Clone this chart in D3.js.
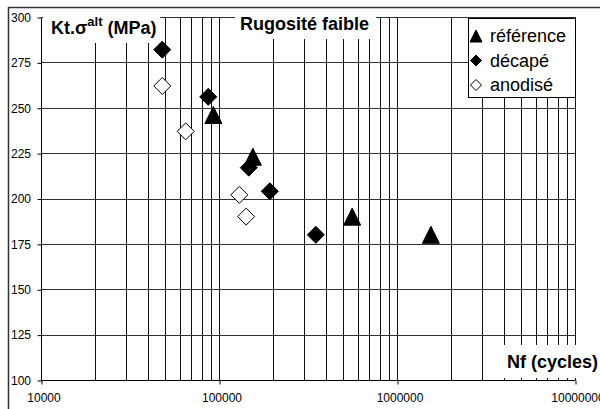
<!DOCTYPE html>
<html>
<head>
<meta charset="utf-8">
<script src="https://cdn.jsdelivr.net/npm/d3@7"></script>
<style>
  body { margin: 0; background: #fff; }
  svg { display: block; font-family: 'Liberation Sans', Arial, sans-serif; }
</style>
</head>
<body>
<div id="chart"></div>
<script>
const seriesNames = ['référence', 'décapé', 'anodisé']
const refN = [93000, 155000, 560000, 1550000]
const refS = [246, 223, 190, 180]
const decN = [48000, 87000, 147000, 193000, 350000]
const decS = [282, 256, 217, 204, 180]
const anoN = [48000, 65000, 130000, 142000]
const anoS = [262, 237, 202, 190]
const yTicks = [100, 125, 150, 175, 200, 225, 250, 275, 300]
const xTicks = [10000, 100000, 1000000, 10000000]

const width = 600
const height = 409
const margin = {top: 17, right: 25, bottom: 29, left: 41}

const svg = d3.select('#chart').append('svg')
  .attr('width', width)
  .attr('height', height)

svg.append('rect')
  .attr('width', width).attr('height', height)
  .attr('fill', '#fff')

// outer chart frame (runs off the right and bottom edges)
svg.append('path')
  .attr('d', 'M8.5,' + (height + 5) + 'V7.5H' + (width + 5))
  .attr('fill', 'none')
  .attr('stroke', '#333')
  .attr('stroke-width', 1.5)

const x = d3.scaleLog()
  .domain([10000, 10000000])
  .range([margin.left, width - margin.right])
const y = d3.scaleLinear()
  .domain([100, 300])
  .range([height - margin.bottom, margin.top])

const g = svg.append('g')

// minor + major vertical gridlines
const vGrid = []
for (let d = 10000; d < 10000000; d *= 10) {
  for (let k = 1; k <= 9; k++) vGrid.push(d * k)
}
vGrid.push(10000000)

g.selectAll('.vgrid').data(vGrid).join('line')
  .attr('class', 'vgrid')
  .attr('x1', d => Math.round(x(d)) + 0.5)
  .attr('x2', d => Math.round(x(d)) + 0.5)
  .attr('y1', y(300))
  .attr('y2', y(100))
  .attr('stroke', '#111')

g.selectAll('.hgrid').data(yTicks).join('line')
  .attr('class', 'hgrid')
  .attr('x1', x(10000))
  .attr('x2', x(10000000))
  .attr('y1', d => Math.round(y(d)) + 0.5)
  .attr('y2', d => Math.round(y(d)) + 0.5)
  .attr('stroke', '#333')

// axes
const yAxis = d3.axisLeft(y)
  .tickValues(yTicks)
  .tickSize(4)
  .tickFormat(d3.format('d'))
const xAxis = d3.axisBottom(x)
  .tickValues(xTicks)
  .tickSize(4)
  .tickFormat(d3.format('d'))

const gy = svg.append('g')
  .attr('transform', 'translate(' + (Math.round(x(10000)) + 0.5) + ',0.5)')
  .call(yAxis)
gy.select('.domain').remove()
gy.append('line')
  .attr('y1', y(300)).attr('y2', y(100))
  .attr('stroke', '#000')
gy.selectAll('.tick line').attr('stroke', '#000')
gy.selectAll('.tick text')
  .attr('x', 11 - Math.round(x(10000)) - 0.5)
  .attr('text-anchor', 'start')
  .attr('font-size', 12)
  .attr('fill', '#000')
  .attr('font-family', null)

const gx = svg.append('g')
  .attr('transform', 'translate(0.5,' + (Math.round(y(100)) + 0.5) + ')')
  .call(xAxis)
gx.select('.domain').remove()
gx.append('line')
  .attr('x1', x(10000)).attr('x2', x(10000000))
  .attr('stroke', '#000')
gx.selectAll('.tick line').attr('stroke', '#000')
gx.selectAll('.tick text')
  .attr('x', 2)
  .attr('y', 13)
  .attr('font-size', 12)
  .attr('fill', '#000')
  .attr('font-family', null)

// labels with white boxes over the grid
svg.append('rect').attr('x', 43).attr('y', 9).attr('width', 117).attr('height', 34).attr('fill', '#fff')
svg.append('rect').attr('x', 235).attr('y', 9).attr('width', 141).attr('height', 30).attr('fill', '#fff')
svg.append('rect').attr('x', 504).attr('y', 345).attr('width', 100).attr('height', 33).attr('fill', '#fff')

const yLabel = svg.append('text')
  .attr('x', 51)
  .attr('y', 34)
  .attr('font-size', 18)
  .attr('font-weight', 'bold')
yLabel.append('tspan').text('Kt.σ')
yLabel.append('tspan').attr('font-size', 13).attr('dy', -8).text('alt')
yLabel.append('tspan').attr('dy', 8).text(' (MPa)')

svg.append('text')
  .attr('x', 240)
  .attr('y', 30)
  .attr('font-size', 18)
  .attr('font-weight', 'bold')
  .text('Rugosité faible')

svg.append('text')
  .attr('x', 507)
  .attr('y', 368)
  .attr('font-size', 18)
  .attr('font-weight', 'bold')
  .text('Nf (cycles)')

// markers
const triangle = s => 'M0,' + (-s / 2) + 'L' + (s / 2) + ',' + (s / 2) + 'L' + (-s / 2) + ',' + (s / 2) + 'Z'
const diamond = s => 'M0,' + (-s / 2) + 'L' + (s / 2) + ',0L0,' + (s / 2) + 'L' + (-s / 2) + ',0Z'

const series = [
  {n: refN, s: refS, shape: triangle, fill: '#000'},
  {n: decN, s: decS, shape: diamond, fill: '#000'},
  {n: anoN, s: anoS, shape: diamond, fill: '#fff'}
]

series.forEach(ser => {
  const pts = ser.n.map((d, i) => ({n: d, s: ser.s[i]}))
  svg.append('g').selectAll('path').data(pts).join('path')
    .attr('transform', d => 'translate(' + x(d.n) + ',' + y(d.s) + ')')
    .attr('d', ser.shape(17))
    .attr('fill', ser.fill)
    .attr('stroke', '#000')
    .attr('stroke-width', 1)
})

// legend
const legend = svg.append('g')
legend.append('rect')
  .attr('x', 468.5).attr('y', 18.5)
  .attr('width', 107).attr('height', 79)
  .attr('fill', '#fff')
  .attr('stroke', '#000')

seriesNames.forEach((name, i) => {
  const ly = 36 + i * 24.5
  legend.append('path')
    .attr('transform', 'translate(476,' + ly + ')')
    .attr('d', series[i].shape(i === 0 ? 12 : 11))
    .attr('fill', series[i].fill)
    .attr('stroke', '#000')
  legend.append('text')
    .attr('x', 490)
    .attr('y', ly + 6)
    .attr('font-size', 18)
    .text(name)
})
</script>
</body>
</html>
